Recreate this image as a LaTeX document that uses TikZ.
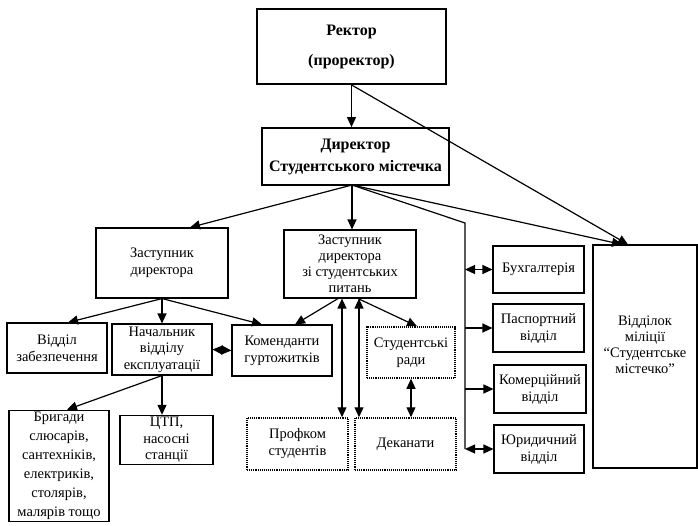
\documentclass[tikz,border=0pt]{standalone}
\usepackage{fontspec}
\setmainfont{Liberation Serif}
\usetikzlibrary{arrows.meta}

\begin{document}
\begin{tikzpicture}[x=1pt,y=-1pt,
  every node/.style={font=\fontsize{14.5}{17}\selectfont},
  unit/.style={draw,black,line width=1.1pt,align=center,inner sep=2pt},
  head/.style={unit,line width=1.8pt,font=\fontsize{16}{22}\selectfont\bfseries},
  public/.style={unit,densely dotted,line width=1.5pt},
  link/.style={black,line width=1.2pt,-{Triangle[length=10pt,width=9pt]}},
  twoway/.style={link,{Triangle[length=10pt,width=9pt]}-{Triangle[length=10pt,width=9pt]}},
  plain/.style={black,line width=1.2pt}]
  \useasboundingbox (0,0) rectangle (698,525);

  % management
  \node[head,minimum width=189,minimum height=75] (rector) at (351.5,46.5)
    {Ректор\\[8pt](проректор)};
  \node[head,minimum width=187,minimum height=57] (director) at (355.5,156.5)
    {Директор\\Студентського містечка};
  \node[unit,minimum width=132,minimum height=70] (zamdir) at (162,263)
    {Заступник\\директора};
  \node[unit,minimum width=132,minimum height=68,
    font=\fontsize{14.5}{16}\selectfont] (zamstud) at (350,264)
    {Заступник\\директора\\зі студентських\\питань};

  % second level
  \node[unit,minimum width=100,minimum height=50] (supply) at (57,348)
    {Відділ\\забезпечення};
  \node[unit,minimum width=100,minimum height=51,
    font=\fontsize{14.5}{16.5}\selectfont] (operation) at (162,349.5)
    {Начальник\\відділу\\експлуатації};
  \node[unit,minimum width=100,minimum height=51] (wardens) at (282,350.5)
    {Коменданти\\гуртожитків};
  \node[public,minimum width=88,minimum height=51] (councils) at (411,352.5)
    {Студентські\\ради};
  \node[unit,minimum width=100,minimum height=98,
    font=\fontsize{14.5}{19}\selectfont] (crews) at (59,466)
    {Бригади\\слюсарів,\\сантехніків,\\електриків,\\столярів,\\малярів тощо};
  \node[unit,minimum width=93,minimum height=46,
    font=\fontsize{14.5}{16.5}\selectfont] (heating) at (166.5,440)
    {ЦТП,\\насосні\\станції};
  \node[public,minimum width=101,minimum height=52] (union) at (297.5,444)
    {Профком\\студентів};
  \node[public,minimum width=101,minimum height=52] (deans) at (405.5,444)
    {Деканати};

  % services on the right
  \node[unit,minimum width=91,minimum height=47] (accounts) at (538.5,269.5)
    {Бухгалтерія};
  \node[unit,minimum width=91,minimum height=48] (passport) at (538.5,328)
    {Паспортний\\відділ};
  \node[unit,minimum width=92,minimum height=48] (commerce) at (540,389)
    {Комерційний\\відділ};
  \node[unit,minimum width=90,minimum height=48] (legal) at (539,449)
    {Юридичний\\відділ};
  \node[unit,minimum width=104,minimum height=223] (police) at (645,356.5) {};
  \node[align=center,font=\fontsize{14.5}{16}\selectfont] (policetext)
    at ([yshift=12pt]police.center)
    {Відділок\\міліції\\“Студентське\\містечко”};

  \coordinate (hub) at (352,185);
  \coordinate (bus) at (465,223);
  \coordinate (busend) at (bus |- legal.west);

  % connectors from the top
  \draw[link] (rector.south) -- (rector.south |- director.north);
  \draw[link] (rector.south) -- ([xshift=-17pt]police.north);
  \draw[link] (hub) -- ([xshift=-23pt]police.north);
  \draw[link] (hub) -- ([xshift=28pt]zamdir.north);
  \draw[link] (hub) -- (hub |- zamstud.north);
  \draw[plain] (hub) -- (bus) -- (busend);
  \draw[twoway] (bus |- accounts.west) -- (accounts.west);
  \draw[link] (bus |- passport.west) -- (passport.west);
  \draw[link] (bus |- commerce.west) -- (commerce.west);
  \draw[twoway] (busend) -- (legal.west);

  % left branch
  \draw[link] (zamdir.south) -- ([xshift=11pt]supply.north);
  \draw[link] (zamdir.south) -- (operation.north);
  \draw[link] (zamdir.south) -- ([xshift=-20pt]wardens.north);
  \draw[twoway] (operation.east) -- (wardens.west);
  \draw[link] (operation.south) -- ([xshift=8pt]crews.north);
  \draw[link] (operation.south) -- (operation.south |- heating.north);

  % student affairs
  \draw[link] ([xshift=-12pt]zamstud.south) -- ([xshift=13pt]wardens.north);
  \draw[link] ([xshift=8pt]zamstud.south) -- ([xshift=6pt]councils.north);
  \draw[twoway] ([xshift=-8pt]zamstud.south)
    -- ([xshift=-8pt]zamstud.south |- union.north);
  \draw[twoway] ([xshift=9pt]zamstud.south)
    -- ([xshift=9pt]zamstud.south |- deans.north);
  \draw[twoway] (councils.south) -- (councils.south |- deans.north);
\end{tikzpicture}
\end{document}
